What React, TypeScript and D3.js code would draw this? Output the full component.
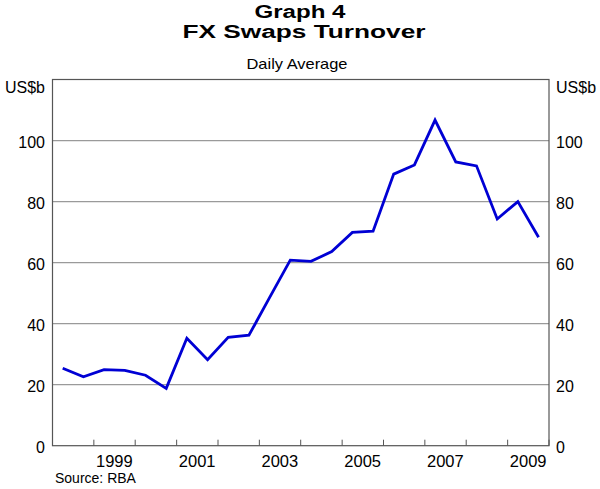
import React from "react";
import * as d3 from "d3";

const dates = [
  "1998-04", "1998-10", "1999-04", "1999-10", "2000-04", "2000-10",
  "2001-04", "2001-10", "2002-04", "2002-10", "2003-04", "2003-10",
  "2004-04", "2004-10", "2005-04", "2005-10", "2006-04", "2006-10",
  "2007-04", "2007-10", "2008-04", "2008-10", "2009-04", "2009-10",
];
const turnover = [
  25.4, 22.6, 24.9, 24.7, 23.1, 18.8,
  35.2, 28.2, 35.5, 36.2, 48.5, 60.8,
  60.4, 63.6, 69.9, 70.3, 89.0, 92.0,
  106.7, 93.0, 91.7, 74.3, 80.0, 68.3,
];
const yTicks = [0, 20, 40, 60, 80, 100];
const yearTicks = [1998, 1999, 2000, 2001, 2002, 2003, 2004, 2005, 2006, 2007, 2008, 2009, 2010];
const yearLabels = [1999, 2001, 2003, 2005, 2007, 2009];

const W = 600;
const H = 489;
const L = 52.5;
const R = 549;
const T = 79.5;
const B = 445.7;
const FONT = "'Liberation Sans', Arial, Helvetica, sans-serif";

export default function App() {
  const parse = d3.timeParse("%Y-%m");
  const x = d3
    .scaleTime()
    .domain([new Date(1998, 0, 1), new Date(2010, 0, 1)])
    .range([L, R]);
  const y = d3.scaleLinear().domain([0, 120]).range([B, T]);
  const data = dates.map((d, i) => ({ date: parse(d) as Date, v: turnover[i] }));
  const line = d3
    .line<{ date: Date; v: number }>()
    .x((d) => x(d.date))
    .y((d) => y(d.v));

  return (
    <svg
      width={W}
      height={H}
      style={{ position: "absolute", left: 0, top: 0, display: "block", background: "#fff" }}
      fontFamily={FONT}
    >
      <rect x={0} y={0} width={W} height={H} fill="#fff" />
      {/* titles */}
      <text x={300} y={18} textAnchor="middle" fontSize={18} fontWeight="bold" textLength={91} lengthAdjust="spacingAndGlyphs" fill="#000">
        Graph 4
      </text>
      <text x={304} y={38} textAnchor="middle" fontSize={18} fontWeight="bold" textLength={243} lengthAdjust="spacingAndGlyphs" fill="#000">
        FX Swaps Turnover
      </text>
      <text x={297} y={68.5} textAnchor="middle" fontSize={14.5} textLength={101} lengthAdjust="spacingAndGlyphs" fill="#000">
        Daily Average
      </text>

      {/* gridlines */}
      {yTicks.filter((t) => t > 0).map((t) => (
        <line key={"g" + t} x1={L} x2={R} y1={y(t)} y2={y(t)} stroke="#9a9a9a" strokeWidth={1.2} />
      ))}

      {/* x ticks */}
      {yearTicks.map((yr) => {
        const xx = x(new Date(yr, 0, 1));
        return <line key={"t" + yr} x1={xx} x2={xx} y1={B} y2={B - 6} stroke="#555" strokeWidth={1} />;
      })}

      {/* frame */}
      <rect x={L} y={T} width={R - L} height={B - T} fill="none" stroke="#555" strokeWidth={1.2} />

      {/* data line */}
      <path d={line(data) || ""} fill="none" stroke="#0000d4" strokeWidth={2.8} strokeLinejoin="miter" />

      {/* y labels */}
      {yTicks.map((t) => (
        <g key={"yl" + t}>
          <text x={45} y={y(t) + 7.5} textAnchor="end" fontSize={16} fill="#000">{t}</text>
          <text x={556} y={y(t) + 7.5} textAnchor="start" fontSize={16} fill="#000">{t}</text>
        </g>
      ))}
      <text x={45} y={T + 13.5} textAnchor="end" fontSize={16} fill="#000">US$b</text>
      <text x={556} y={T + 13.5} textAnchor="start" fontSize={16} fill="#000">US$b</text>

      {/* x labels */}
      {yearLabels.map((yr) => (
        <text key={"xl" + yr} x={x(new Date(yr, 6, 1))} y={466.7} textAnchor="middle" fontSize={16.5} fill="#000">
          {yr}
        </text>
      ))}

      <text x={55} y={483} fontSize={14} fill="#000">Source: RBA</text>
    </svg>
  );
}
